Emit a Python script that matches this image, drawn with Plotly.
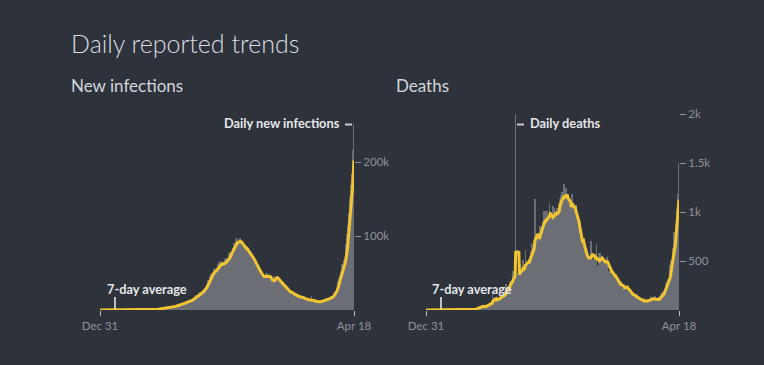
import pandas as pd
import plotly.graph_objects as go

# ---------------- data ----------------
start_date = "2019-12-31"
end_date = "2021-04-18"

cases_2019_12 = [0]
cases_2020_01 = [0, 0, 0, 0, 0, 0, 0, 0, 0, 0, 0, 0, 0, 0, 0, 0, 0, 0, 0, 0,
                 0, 0, 0, 0, 0, 0, 0, 0, 0, 1, 0]
cases_2020_02 = [0, 1, 1, 0, 0, 0, 0, 0, 0, 0, 0, 0, 0, 0, 0, 0, 0, 0, 0, 0,
                 0, 0, 0, 0, 0, 0, 0, 0, 0]
cases_2020_03 = [0, 2, 1, 22, 1, 2, 3, 5, 4, 13, 6, 11, 10, 20, 11, 6, 23, 14, 38, 50,
                 86, 66, 103, 37, 121, 70, 160, 100, 82, 227, 146]
cases_2020_04 = [601, 545, 24, 515, 506, 489, 573, 565, 813, 871, 854, 758, 1243, 1031, 886,
                 1061, 922, 1371, 1580, 1239, 1537, 1292, 1667, 1408, 1835, 1607, 1561, 1873,
                 1738, 1801]
cases_2020_05 = [2394, 2442, 2806, 3932, 2963, 3587, 3364, 3344, 3113, 4353, 3607, 3524, 3763,
                 3942, 3787, 4864, 5050, 4630, 6147, 5553, 6198, 6568, 6629, 7111, 6414, 6535,
                 7347, 7254, 8138, 8364, 8789]
cases_2020_06 = [7723, 8812, 9689, 9847, 9472, 10408, 10882, 8442, 9981, 10956, 12375, 11156,
                 11929, 11502, 10667, 10974, 12881, 13586, 14516, 15413, 14821, 14933, 15968,
                 16922, 17296, 18552, 19906, 19459, 18522, 18653]
cases_2020_07 = [19148, 20903, 22771, 24850, 24248, 22252, 22752, 24879, 24879, 26506, 27114,
                 28637, 28701, 28498, 29429, 32695, 34956, 34884, 38902, 40425, 37148, 37724,
                 45720, 49310, 48916, 48661, 49931, 47704, 48513, 52123, 55078]
cases_2020_08 = [57118, 54735, 52972, 52050, 52509, 56282, 62538, 61537, 64399, 62064, 53601,
                 60963, 66999, 64553, 65002, 63490, 57981, 55079, 64531, 69652, 68898, 69878,
                 69239, 61408, 60975, 67151, 75760, 77266, 76472, 78761, 78512]
cases_2020_09 = [69921, 78357, 83883, 83341, 86432, 90632, 90802, 75809, 89706, 95735, 96551,
                 97570, 94372, 92071, 83809, 90123, 97894, 96424, 93337, 92605, 86961, 75083,
                 83347, 86508, 86052, 85362, 88600, 82170, 70589, 80472]
cases_2020_10 = [86821, 81484, 79476, 75829, 74442, 61267, 72049, 78524, 70496, 73272, 74383,
                 66732, 55342, 63509, 67708, 63371, 62212, 61871, 55722, 46790, 54044, 55839,
                 54366, 53370, 50129, 45149, 36469, 43893, 49881, 48648, 46963]
cases_2020_11 = [46964, 45231, 38310, 46253, 50210, 47638, 50357, 45674, 45903, 38073, 44281,
                 47905, 44879, 44684, 41100, 30548, 29164, 38617, 45576, 45882, 46232, 45209,
                 44059, 37975, 44376, 44489, 43082, 41322, 41810, 38772]
cases_2020_12 = [31118, 36604, 35551, 36595, 36652, 36011, 32981, 26567, 32080, 31521, 29398,
                 30006, 30254, 27071, 22065, 26382, 24010, 22890, 25152, 26624, 24337, 19556,
                 23950, 24712, 23068, 22273, 18732, 16432, 20550, 21822, 20036]
cases_2021_01 = [19078, 18177, 18088, 16505, 16375, 18088, 20346, 18139, 18222, 18645, 16311,
                 12584, 15968, 16946, 15590, 15158, 15144, 13788, 10064, 13823, 15223, 14545,
                 14256, 14849, 13203, 9102, 12689, 11666, 18855, 13083, 13052]
cases_2021_02 = [11427, 8635, 11039, 12899, 12408, 11713, 12059, 11831, 9110, 11067, 12923,
                 9309, 12143, 12194, 11649, 9121, 11610, 12881, 13193, 13993, 14264, 14199,
                 10584, 13742, 16738, 16577, 16488, 16752]
cases_2021_03 = [15510, 12286, 14989, 17407, 16838, 18327, 18711, 18599, 15388, 17921, 22854,
                 23285, 24882, 25320, 26291, 24492, 28903, 35871, 39726, 40953, 43846, 46951,
                 40715, 47262, 53476, 59118, 62258, 62714, 68020, 56211, 53480]
cases_2021_04 = [72330, 81466, 89129, 93249, 103558, 96982, 115736, 126789, 131968, 145384,
                 152879, 168912, 161736, 184372, 200739, 217353, 234692, 252000]

deaths_2019_12 = [0]
deaths_2020_01 = [0, 0, 0, 0, 0, 0, 0, 0, 0, 0, 0, 0, 0, 0, 0, 0, 0, 0, 0, 0,
                  0, 0, 0, 0, 0, 0, 0, 0, 0, 0, 0]
deaths_2020_02 = [0, 0, 0, 0, 0, 0, 0, 0, 0, 0, 0, 0, 0, 0, 0, 0, 0, 0, 0, 0,
                  0, 0, 0, 0, 0, 0, 0, 0, 0]
deaths_2020_03 = [0, 0, 0, 0, 0, 0, 0, 0, 0, 0, 0, 1, 0, 1, 0, 0, 1, 0, 1, 1,
                  0, 3, 2, 1, 1, 7, 3, 5, 3, 5, 14]
deaths_2020_04 = [9, 14, 15, 19, 15, 29, 34, 32, 33, 40, 37, 34, 40, 36, 38, 37, 28, 33, 36, 32,
                  51, 49, 43, 56, 52, 47, 50, 62, 70, 67]
deaths_2020_05 = [77, 72, 83, 175, 126, 90, 104, 100, 96, 109, 85, 121, 134, 103, 100, 120, 154,
                  134, 134, 132, 140, 137, 147, 140, 146, 170, 194, 175, 265, 194, 193]
deaths_2020_06 = [230, 204, 259, 273, 287, 294, 261, 266, 246, 357, 394, 396, 386, 325, 325,
                  2003, 341, 336, 375, 306, 445, 312, 418, 465, 407, 384, 410, 384, 418, 507]
deaths_2020_07 = [434, 379, 442, 613, 425, 467, 482, 487, 475, 475, 519, 551, 500, 553, 606,
                  687, 671, 543, 681, 587, 648, 1129, 740, 756, 705, 708, 654, 768, 779, 775, 764]
deaths_2020_08 = [853, 771, 803, 857, 904, 886, 933, 1007, 871, 834, 1007, 835, 942, 1007, 996,
                  944, 876, 1092, 977, 997, 983, 912, 836, 848, 1059, 1023, 1021, 1043, 948, 971,
                  819]
deaths_2020_09 = [1045, 1025, 1043, 1089, 1065, 1016, 1133, 1115, 1172, 1209, 1201, 1114, 1054,
                  1136, 1283, 1132, 1174, 1247, 1130, 1133, 1130, 1053, 1089, 1129, 1141, 1124,
                  1039, 776, 1179, 1181]
deaths_2020_10 = [1095, 1069, 1069, 940, 903, 884, 971, 1069, 964, 926, 918, 706, 702, 680, 895,
                  680, 837, 578, 579, 717, 702, 650, 578, 650, 480, 488, 517, 587, 551, 563, 470]
deaths_2020_11 = [551, 490, 448, 704, 670, 577, 559, 490, 449, 511, 524, 550, 547, 670, 447, 435,
                  449, 474, 585, 564, 584, 501, 511, 490, 482, 524, 518, 496, 485, 443]
deaths_2020_12 = [482, 501, 512, 540, 482, 391, 402, 355, 402, 402, 442, 355, 336, 387, 355, 338,
                  347, 341, 340, 347, 333, 286, 336, 251, 252, 251, 279, 212, 286, 299, 251]
deaths_2021_01 = [224, 214, 214, 201, 264, 222, 250, 232, 228, 246, 202, 201, 202, 181, 191, 175,
                  181, 145, 137, 162, 151, 163, 160, 132, 131, 117, 137, 123, 163, 127, 120]
deaths_2021_02 = [108, 94, 107, 107, 120, 101, 80, 83, 84, 94, 123, 81, 92, 93, 94, 78, 98, 104,
                  101, 101, 110, 90, 78, 138, 137, 114, 113, 113]
deaths_2021_03 = [111, 88, 99, 138, 113, 108, 100, 97, 78, 131, 126, 117, 140, 161, 118, 131,
                  188, 172, 154, 188, 197, 213, 199, 275, 251, 258, 291, 312, 291, 271, 354]
deaths_2021_04 = [459, 469, 514, 513, 478, 446, 630, 684, 794, 780, 839, 879, 904, 1027, 1038,
                  1185, 1341, 1501]

cases_tickvals = [100000, 200000]
cases_ticktext = ["100k", "200k"]
deaths_tickvals = [500, 1000, 1500, 2000]
deaths_ticktext = ["500", "1k", "1.5k", "2k"]
x_ticktext = ["Dec 31", "Apr 18"]

# ---------------- assemble ----------------
cases = (cases_2019_12 + cases_2020_01 + cases_2020_02 + cases_2020_03 + cases_2020_04 +
         cases_2020_05 + cases_2020_06 + cases_2020_07 + cases_2020_08 + cases_2020_09 +
         cases_2020_10 + cases_2020_11 + cases_2020_12 + cases_2021_01 + cases_2021_02 +
         cases_2021_03 + cases_2021_04)
deaths = (deaths_2019_12 + deaths_2020_01 + deaths_2020_02 + deaths_2020_03 + deaths_2020_04 +
          deaths_2020_05 + deaths_2020_06 + deaths_2020_07 + deaths_2020_08 + deaths_2020_09 +
          deaths_2020_10 + deaths_2020_11 + deaths_2020_12 + deaths_2021_01 + deaths_2021_02 +
          deaths_2021_03 + deaths_2021_04)
dates = pd.date_range(start_date, end_date, freq="D")
assert len(cases) == len(dates), (len(cases), len(dates))
assert len(deaths) == len(dates), (len(deaths), len(dates))

df = pd.DataFrame({"date": dates, "cases": cases, "deaths": deaths})
df["cases_avg"] = df["cases"].rolling(7, min_periods=1).mean()
df["deaths_avg"] = df["deaths"].rolling(7, min_periods=1).mean()

# ---------------- style ----------------
W, H = 764, 365
BG = "#2e323a"
BAR = "#6b6e74"
YEL = "#f1c531"
TICK = "#8e9298"
TXT = "#e4e6e9"
FONT = "Lato"


def px_x(p):
    return p / W


def px_y(p):
    return (H - p) / H


plot_top, plot_bot = 110, 310
left_x0, left_x1 = 100, 354
right_x0, right_x1 = 426, 679
cases_per_px = 100000 / 73.8
deaths_per_px = 500 / 49.0

fig = go.Figure()
fig.add_trace(go.Bar(x=df["date"], y=df["cases"], marker=dict(color=BAR, line=dict(width=0)),
                     xaxis="x", yaxis="y", hoverinfo="skip"))
fig.add_trace(go.Scatter(x=df["date"], y=df["cases_avg"], mode="lines",
                         line=dict(color=YEL, width=3), xaxis="x", yaxis="y", hoverinfo="skip"))
fig.add_trace(go.Bar(x=df["date"], y=df["deaths"], marker=dict(color=BAR, line=dict(width=0)),
                     xaxis="x2", yaxis="y2", hoverinfo="skip"))
fig.add_trace(go.Scatter(x=df["date"], y=df["deaths_avg"], mode="lines",
                         line=dict(color=YEL, width=3), xaxis="x2", yaxis="y2", hoverinfo="skip"))

xcommon = dict(range=[dates[0], dates[-1]], tickmode="array", tickvals=[dates[0], dates[-1]],
               ticktext=x_ticktext, ticks="outside", ticklen=5, tickwidth=1, tickcolor="#b8bbbf",
               tickfont=dict(family=FONT, size=11.5, color=TICK), showgrid=False, zeroline=False,
               showline=False, fixedrange=True, automargin=False)
ycommon = dict(side="right", ticks="outside", ticklen=6, tickwidth=1, tickcolor=TICK,
               tickfont=dict(family=FONT, size=11.5, color=TICK), showgrid=False, zeroline=False,
               showline=False, tickmode="array", fixedrange=True, automargin=False)

fig.update_layout(
    width=W, height=H, autosize=False, paper_bgcolor=BG, plot_bgcolor=BG, showlegend=False,
    margin=dict(l=0, r=0, t=0, b=0, pad=0, autoexpand=False), bargap=0, barmode="overlay",
    hovermode=False,
    xaxis=dict(domain=[px_x(left_x0), px_x(left_x1)], anchor="y", **xcommon),
    yaxis=dict(domain=[px_y(plot_bot), px_y(plot_top)], anchor="x",
               range=[0, (plot_bot - plot_top) * cases_per_px],
               tickvals=cases_tickvals, ticktext=cases_ticktext, **ycommon),
    xaxis2=dict(domain=[px_x(right_x0), px_x(right_x1)], anchor="y2", **xcommon),
    yaxis2=dict(domain=[px_y(plot_bot), px_y(plot_top)], anchor="x2",
                range=[0, (plot_bot - plot_top) * deaths_per_px],
                tickvals=deaths_tickvals, ticktext=deaths_ticktext, **ycommon),
)

ann = []
shapes = []
ann.append(dict(text="Daily reported trends", x=px_x(69), y=px_y(43), xref="paper", yref="paper",
                xanchor="left", yanchor="middle", showarrow=False,
                font=dict(family=FONT, size=25, color="#d9dde2", weight=300)))
ann.append(dict(text="New infections", x=px_x(69), y=px_y(85), xref="paper", yref="paper",
                xanchor="left", yanchor="middle", showarrow=False,
                font=dict(family=FONT, size=17, color="#d3d7dc")))
ann.append(dict(text="Deaths", x=px_x(394), y=px_y(85), xref="paper", yref="paper",
                xanchor="left", yanchor="middle", showarrow=False,
                font=dict(family=FONT, size=17, color="#d3d7dc")))

lab_font = dict(family=FONT, size=12.8, color=TXT, weight="bold")
# Daily new infections label
ann.append(dict(text="Daily new infections", x=px_x(342), y=px_y(123), xref="paper", yref="paper",
                xanchor="right", yanchor="middle", showarrow=False, font=lab_font))
shapes.append(dict(type="line", xref="paper", yref="paper", x0=px_x(345), x1=px_x(352),
                   y0=px_y(124.5), y1=px_y(124.5), line=dict(color="#c9ccd0", width=2)))
# Daily deaths label
ann.append(dict(text="Daily deaths", x=px_x(528), y=px_y(123), xref="paper", yref="paper",
                xanchor="left", yanchor="middle", showarrow=False, font=lab_font))
shapes.append(dict(type="line", xref="paper", yref="paper", x0=px_x(517), x1=px_x(524),
                   y0=px_y(124.5), y1=px_y(124.5), line=dict(color="#c9ccd0", width=2)))
# 7-day average labels
for tx, lx in [(105, 115), (430, 441)]:
    ann.append(dict(text="7-day average", x=px_x(tx), y=px_y(289), xref="paper", yref="paper",
                    xanchor="left", yanchor="middle", showarrow=False, font=lab_font))
    shapes.append(dict(type="line", xref="paper", yref="paper", x0=px_x(lx), x1=px_x(lx),
                       y0=px_y(297), y1=px_y(309), line=dict(color="#f2f2f2", width=1.5)))

fig.update_layout(annotations=ann, shapes=shapes)

page_css = ("var s=document.createElement('style');"
            "s.innerHTML='html,body{margin:0;padding:0;overflow:hidden;background:" + BG + ";}';"
            "document.head.appendChild(s);")
fig.write_html("out.html", config={"displayModeBar": False, "responsive": False},
               post_script=page_css)
